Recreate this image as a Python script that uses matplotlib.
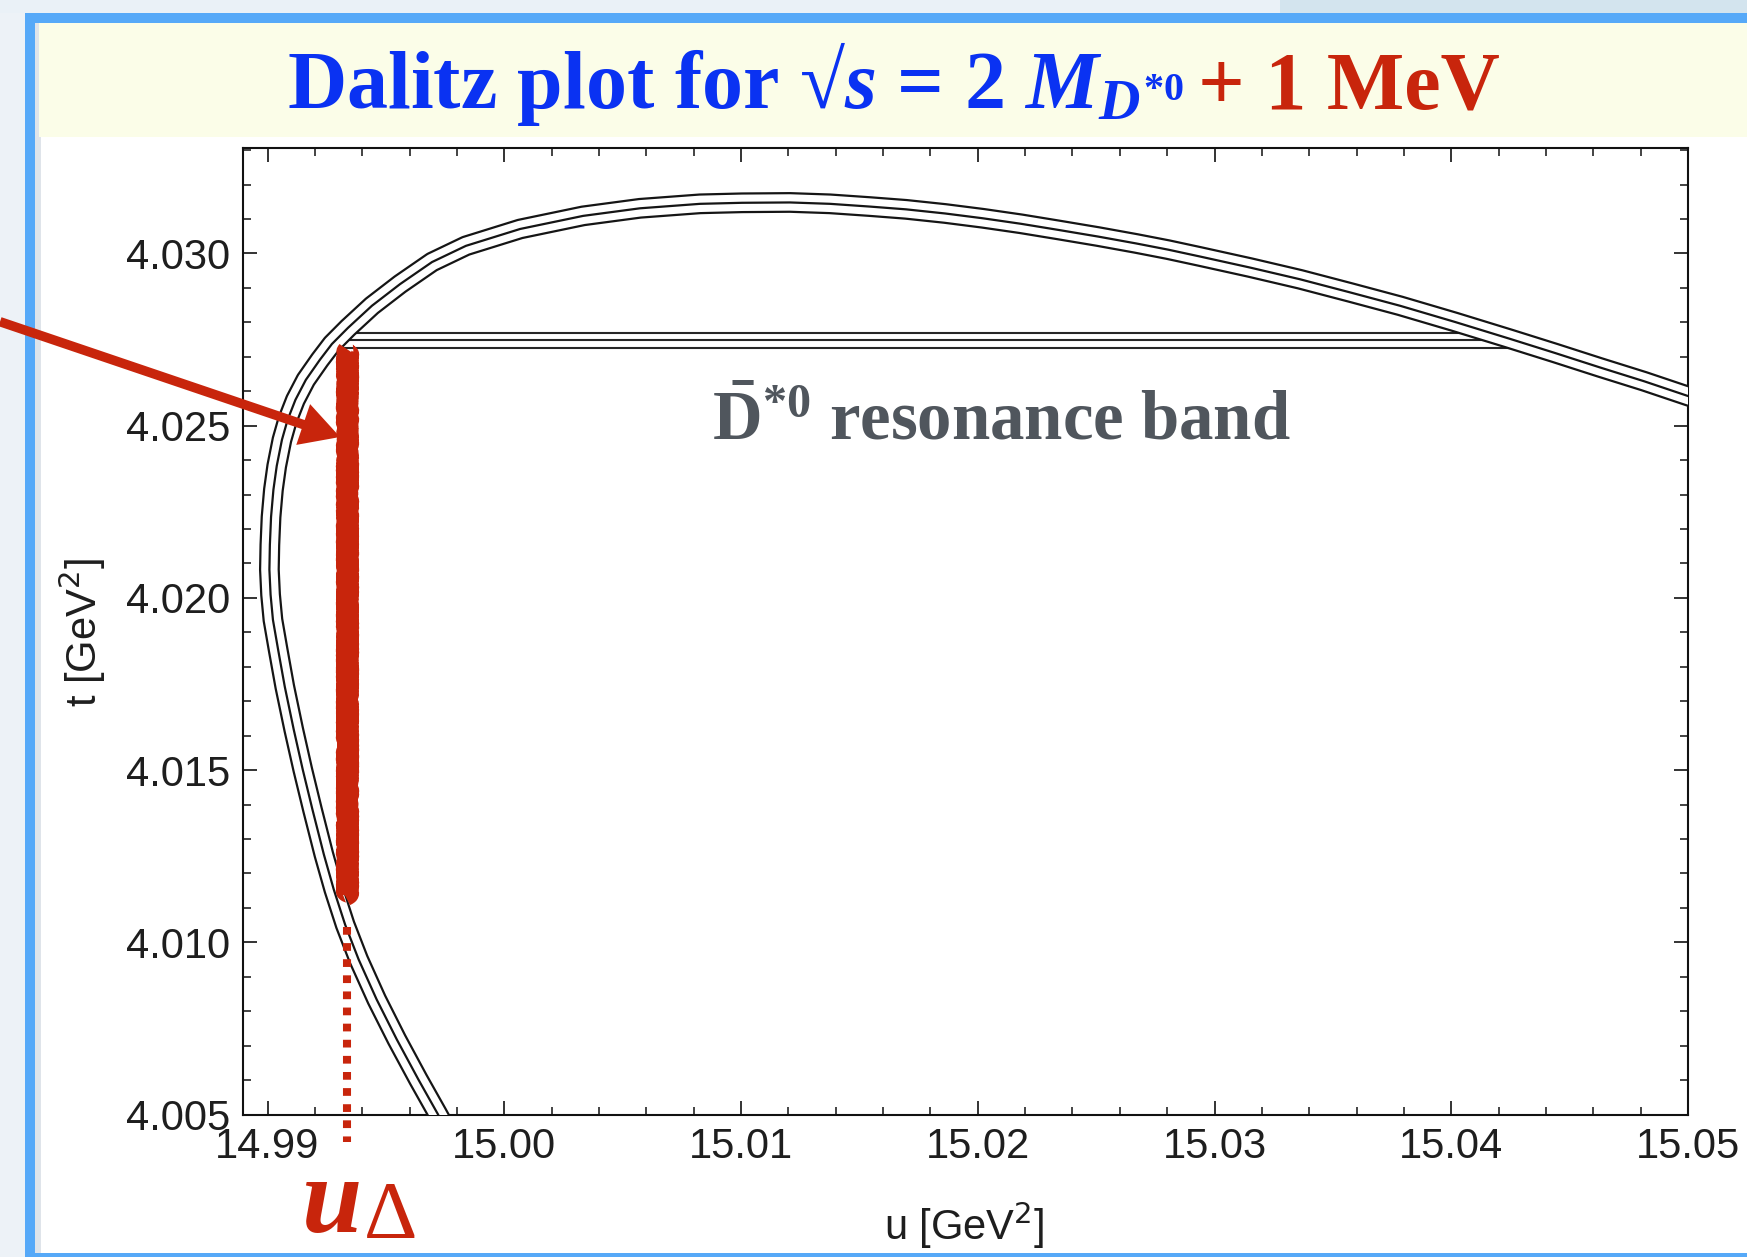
import matplotlib
matplotlib.use('Agg')
import matplotlib.pyplot as plt
from matplotlib.patches import Rectangle, FancyArrowPatch, ArrowStyle
from matplotlib.ticker import AutoMinorLocator

plt.rcParams['mathtext.fontset'] = 'custom'
plt.rcParams['mathtext.rm'] = 'Liberation Serif:bold'
plt.rcParams['mathtext.it'] = 'Liberation Serif:italic:bold'
plt.rcParams['mathtext.bf'] = 'Liberation Serif:bold'

# ---------------- data ----------------
boundary_u = [14.99741, 14.99718, 14.99637, 14.99546, 14.99461, 14.99385, 14.99328,
              14.99280, 14.99238, 14.99190, 14.99149, 14.99111, 14.99073, 14.99045,
              14.99023, 14.99013, 14.99008, 14.99010, 14.99015, 14.99025, 14.99039,
              14.99061, 14.99085, 14.99118, 14.99162, 14.99221, 14.99272, 14.99340,
              14.99441, 14.99560, 14.99695, 14.99838, 15.00067, 15.00333, 15.00573,
              15.00827, 15.01004, 15.01207, 15.01376, 15.01545, 15.01697, 15.01862,
              15.02022, 15.02183, 15.02343, 15.02508, 15.02669, 15.02804, 15.02939,
              15.03150, 15.03361, 15.03572, 15.03784, 15.04016, 15.04248, 15.04438,
              15.04628, 15.04814, 15.05000, 15.05051]
boundary_t = [4.00474, 4.00503, 4.00602, 4.00718, 4.00834, 4.00950, 4.01051,
              4.01153, 4.01255, 4.01385, 4.01501, 4.01617, 4.01742, 4.01849,
              4.01936, 4.02009, 4.02082, 4.02154, 4.02235, 4.02314, 4.02383,
              4.02459, 4.02517, 4.02575, 4.02633, 4.02691, 4.02737, 4.02784,
              4.02848, 4.02911, 4.02975, 4.03022, 4.03071, 4.03109, 4.03131,
              4.03144, 4.03147, 4.03148, 4.03144, 4.03136, 4.03128, 4.03116,
              4.03102, 4.03086, 4.03068, 4.03049, 4.03029, 4.03011, 4.02991,
              4.02959, 4.02925, 4.02887, 4.02848, 4.02801, 4.02752, 4.02711,
              4.02669, 4.02629, 4.02586, 4.02575]

band_t = [4.02768, 4.02749, 4.02724]          # D*0 resonance band lines
band_u = [14.99290, 15.04248]                 # band extent

u_delta = 14.99335                            # u_Delta position
red_bar_t = [4.02723, 4.01133]                # thick red segment
dotted_t = [4.01045, 4.00419]                 # dotted red segment

xticks = [14.99, 15.00, 15.01, 15.02, 15.03, 15.04, 15.05]
xticklabels = ['14.99', '15.00', '15.01', '15.02', '15.03', '15.04', '15.05']
yticks = [4.005, 4.010, 4.015, 4.020, 4.025, 4.030]
yticklabels = ['4.005', '4.010', '4.015', '4.020', '4.025', '4.030']

# ---------------- figure / slide background ----------------
W, H = 1747, 1257
fig = plt.figure(figsize=(W / 100, H / 100), dpi=100)
fig.patch.set_facecolor('#edf2f7')


def fx(px):
    return px / W


def fy(py):
    return 1 - py / H


def rect(x0, y0, x1, y1, color, z=-5):
    fig.add_artist(Rectangle((fx(x0), fy(y1)), fx(x1) - fx(x0), fy(y0) - fy(y1),
                             transform=fig.transFigure, facecolor=color,
                             edgecolor='none', zorder=z))


rect(0, 0, W, 13, '#eaf1f7', z=-7)
rect(1280, 0, W, 13, '#d3e4ee', z=-6)
rect(35, 23, W, 1253, 'white')
rect(35, 23, 41, 1253, '#dfe4ea', z=-4)
rect(39, 23, W, 137, '#fbfde8', z=-3)
rect(25, 13, W, 23, '#56a9f8', z=-2)
rect(25, 13, 35, H, '#56a9f8', z=-2)
rect(25, 1253, W, H, '#56a9f8', z=-2)

BLUE = '#0a32f2'
RED = '#c8250c'
GREY = '#50565d'
INK = '#1e1e1e'
LINE = '#151515'

# ---------------- axes ----------------
ax = fig.add_axes([fx(243), fy(1114.5), fx(1688) - fx(243), fy(148) - fy(1114.5)])
ax.set_facecolor('white')
ax.set_xlim(14.988965, 15.05)
ax.set_ylim(4.005, 4.033061)

# resonance band
for tb in band_t:
    ax.plot(band_u, [tb, tb], color='#262626', lw=1.5, zorder=2,
            solid_capstyle='butt')

# Dalitz boundary drawn as a triple line (outer black, white gap, centre black)
for lw, col, z in [(15.0, LINE, 3.0), (11.8, 'white', 3.1), (1.6, LINE, 3.2)]:
    ax.plot(boundary_u, boundary_t, color=col, lw=lw, zorder=z,
            solid_joinstyle='round', solid_capstyle='butt')

# thick red bar
bar, = ax.plot([u_delta, u_delta], red_bar_t, color=RED, lw=14.0, zorder=4,
               solid_capstyle='butt')
bar.set_sketch_params(scale=2.0, length=6.0, randomness=3.0)

# dotted red line
ax.plot([u_delta, u_delta], dotted_t, color=RED, lw=5.8, zorder=4,
        linestyle=(0, (0.96, 1.04)), dash_capstyle='butt', clip_on=False)

# ticks
ax.set_xticks(xticks)
ax.set_xticklabels(xticklabels)
ax.set_yticks(yticks)
ax.set_yticklabels(yticklabels)
ax.xaxis.set_minor_locator(AutoMinorLocator(5))
ax.yaxis.set_minor_locator(AutoMinorLocator(5))
ax.tick_params(which='both', direction='in', top=True, right=True,
               color='#111111')
ax.tick_params(which='major', length=10, width=1.2, pad=9,
               labelsize=30, labelcolor=INK)
ax.tick_params(which='minor', length=5.5, width=1.1)
for lab in ax.get_xticklabels() + ax.get_yticklabels():
    lab.set_family('Liberation Sans')
for sp in ax.spines.values():
    sp.set_linewidth(1.5)
    sp.set_color('#111111')

# axis labels
fig.text(fx(964), fy(1240), 'u [GeV$^2$]', fontsize=30, family='Liberation Sans',
         color=INK, math_fontfamily='dejavusans', ha='center', va='baseline')
fig.text(fx(82), fy(633), 't [GeV$^2$]', fontsize=30, family='Liberation Sans',
         color=INK, math_fontfamily='dejavusans', ha='center', va='center',
         rotation=90)

# resonance band label
fig.text(fx(712), fy(439), r'$\bar{\mathrm{D}}^{*0}$ resonance band', fontsize=49.5,
         family='Liberation Serif', weight='bold', color=GREY,
         ha='left', va='baseline')

# ---------------- title ----------------
t_blue = fig.text(fx(287), fy(108), r'Dalitz plot for √$s$ = 2 $M_{D^{*0}}$',
                  fontsize=59, family='Liberation Serif', weight='bold',
                  color=BLUE, ha='left', va='baseline')
fig.canvas.draw()
bb = t_blue.get_window_extent(fig.canvas.get_renderer())
fig.text((bb.x1 + 14) / W, fy(108), '+ 1 MeV', fontsize=59,
         family='Liberation Serif', weight='bold', color=RED,
         ha='left', va='baseline')

# ---------------- u_Delta label ----------------
fig.text(fx(301), fy(1232), 'u', fontsize=78, family='Liberation Serif',
         weight='bold', style='italic', color=RED, ha='left', va='baseline')
fig.text(fx(364), fy(1238), 'Δ', fontsize=60, family='Liberation Serif',
         weight='normal', color=RED, ha='left', va='baseline')

# ---------------- arrow ----------------
arrow = FancyArrowPatch(posA=(fx(0), fy(321.7)), posB=(fx(340), fy(437)),
                        transform=fig.transFigure,
                        arrowstyle=ArrowStyle.Simple(head_length=28, head_width=31,
                                                     tail_width=6.8),
                        mutation_scale=1, color=RED, lw=0,
                        shrinkA=0, shrinkB=0, zorder=10)
fig.add_artist(arrow)

fig.savefig('out.png', dpi=100, facecolor=fig.get_facecolor())
